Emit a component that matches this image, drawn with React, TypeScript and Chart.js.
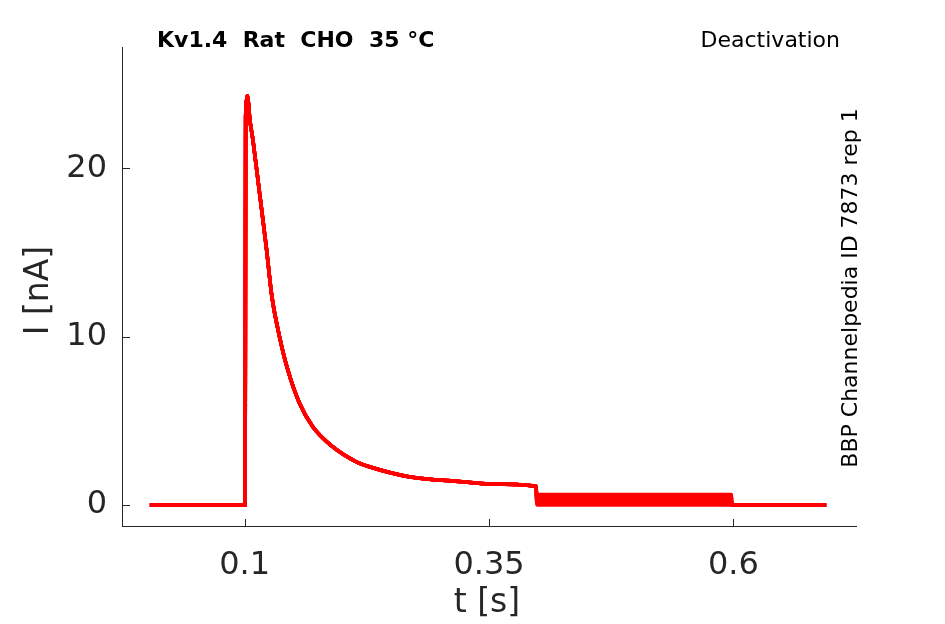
import React, { useEffect, useRef } from 'react';
import { Chart, registerables } from 'chart.js';

Chart.register(...registerables);

// time [s] and current [nA] of the shared part of the traces (holding, step, inactivation decay)
const traceTimes = [0.003, 0.05, 0.1, 0.1005, 0.101, 0.1018, 0.1027, 0.104, 0.1051, 0.1085, 0.1153, 0.1221, 0.1279, 0.1357, 0.1442, 0.1561, 0.1697, 0.19, 0.214, 0.2276, 0.268, 0.3225, 0.35, 0.398];
const traceCurrents = [0, 0, 0, 0, 23.0, 24.0, 24.3, 23.8, 23.0, 21.66, 18.5, 15.33, 12.36, 9.99, 8.01, 6.04, 4.65, 3.46, 2.57, 2.27, 1.68, 1.38, 1.25, 1.12];
// tail currents during the deactivation step (one per trace)
const tailLevels = [0.62, 0.53, 0.44, 0.35, 0.26, 0.17, 0.08, 0.0];
const tailStart = 0.399;
const tailEnd = 0.598;
const recordEnd = 0.695;

const xTicks = [0.1, 0.35, 0.6];
const yTicks = [0, 10, 20];

const FONT = '"DejaVu Sans", sans-serif';
const AXIS = '#262626';

const overlay = {
  id: 'overlay',
  afterDraw(chart: any) {
    const { ctx, chartArea, scales } = chart;
    ctx.save();
    ctx.strokeStyle = AXIS;
    ctx.lineWidth = 1;
    xTicks.forEach((v) => {
      const px = Math.round(scales.x.getPixelForValue(v)) + 0.5;
      ctx.beginPath();
      ctx.moveTo(px, chartArea.bottom);
      ctx.lineTo(px, chartArea.bottom - 7);
      ctx.stroke();
    });
    yTicks.forEach((v) => {
      const py = Math.round(scales.y.getPixelForValue(v)) + 0.5;
      ctx.beginPath();
      ctx.moveTo(chartArea.left, py);
      ctx.lineTo(chartArea.left + 8, py);
      ctx.stroke();
    });

    ctx.fillStyle = AXIS;
    ctx.font = `33px ${FONT}`;
    ctx.textAlign = 'center';
    ctx.textBaseline = 'middle';
    ctx.fillText('t [s]', (chartArea.left + chartArea.right) / 2 - 2, 603);
    ctx.save();
    ctx.translate(39, (chartArea.top + chartArea.bottom) / 2 + 4);
    ctx.rotate(-Math.PI / 2);
    ctx.fillText('I [nA]', 0, 0);
    ctx.restore();

    ctx.fillStyle = '#000';
    ctx.textBaseline = 'alphabetic';
    ctx.font = `bold 22px ${FONT}`;
    ctx.textAlign = 'left';
    ctx.fillText('Kv1.4  Rat  CHO  35 °C', 157, 47);
    ctx.font = `22px ${FONT}`;
    ctx.textAlign = 'right';
    ctx.fillText('Deactivation', 840, 47);
    ctx.save();
    ctx.translate(857, 288);
    ctx.rotate(-Math.PI / 2);
    ctx.textAlign = 'center';
    ctx.fillText('BBP Channelpedia ID 7873 rep 1', 0, 0);
    ctx.restore();
    ctx.restore();
  },
};

export default function App() {
  const canvasRef = useRef<HTMLCanvasElement>(null);

  useEffect(() => {
    if (!canvasRef.current) return;
    const datasets = tailLevels.map((level) => ({
      data: [
        ...traceTimes.map((t, i) => ({ x: t, y: traceCurrents[i] })),
        { x: tailStart, y: level },
        { x: tailEnd, y: level },
        { x: tailEnd + 0.0005, y: 0 },
        { x: recordEnd, y: 0 },
      ],
      borderColor: '#ff0000',
      borderWidth: 3.5,
      pointRadius: 0,
      cubicInterpolationMode: 'monotone' as const,
      fill: false,
    }));

    const chart = new Chart(canvasRef.current, {
      type: 'line',
      data: { datasets },
      options: {
        animation: false,
        responsive: true,
        maintainAspectRatio: false,
        layout: { padding: { left: 0, top: 47, right: 89, bottom: 0 } },
        plugins: { legend: { display: false }, tooltip: { enabled: false } },
        scales: {
          x: {
            type: 'linear',
            min: -0.0255,
            max: 0.7255,
            afterBuildTicks: (scale: any) => { scale.ticks = xTicks.map((v) => ({ value: v })); },
            afterFit: (scale: any) => { scale.height = 98; },
            grid: { display: false, drawTicks: false },
            border: { display: true, color: AXIS, width: 1 },
            ticks: {
              color: AXIS,
              padding: 20,
              maxRotation: 0,
              font: { family: FONT, size: 32 },
              callback: (v: any) => String(v),
            },
          },
          y: {
            type: 'linear',
            min: -1.25,
            max: 27.2,
            afterBuildTicks: (scale: any) => { scale.ticks = yTicks.map((v) => ({ value: v })); },
            afterFit: (scale: any) => { scale.width = 122; },
            grid: { display: false, drawTicks: false },
            border: { display: true, color: AXIS, width: 1 },
            ticks: {
              color: AXIS,
              padding: 15,
              font: { family: FONT, size: 32 },
              callback: (v: any) => String(v),
            },
          },
        },
      },
      plugins: [overlay],
    });
    return () => chart.destroy();
  }, []);

  return (
    <div style={{ position: 'fixed', left: 0, top: 0, width: 945, height: 624, background: '#fff' }}>
      <canvas ref={canvasRef}></canvas>
    </div>
  );
}
